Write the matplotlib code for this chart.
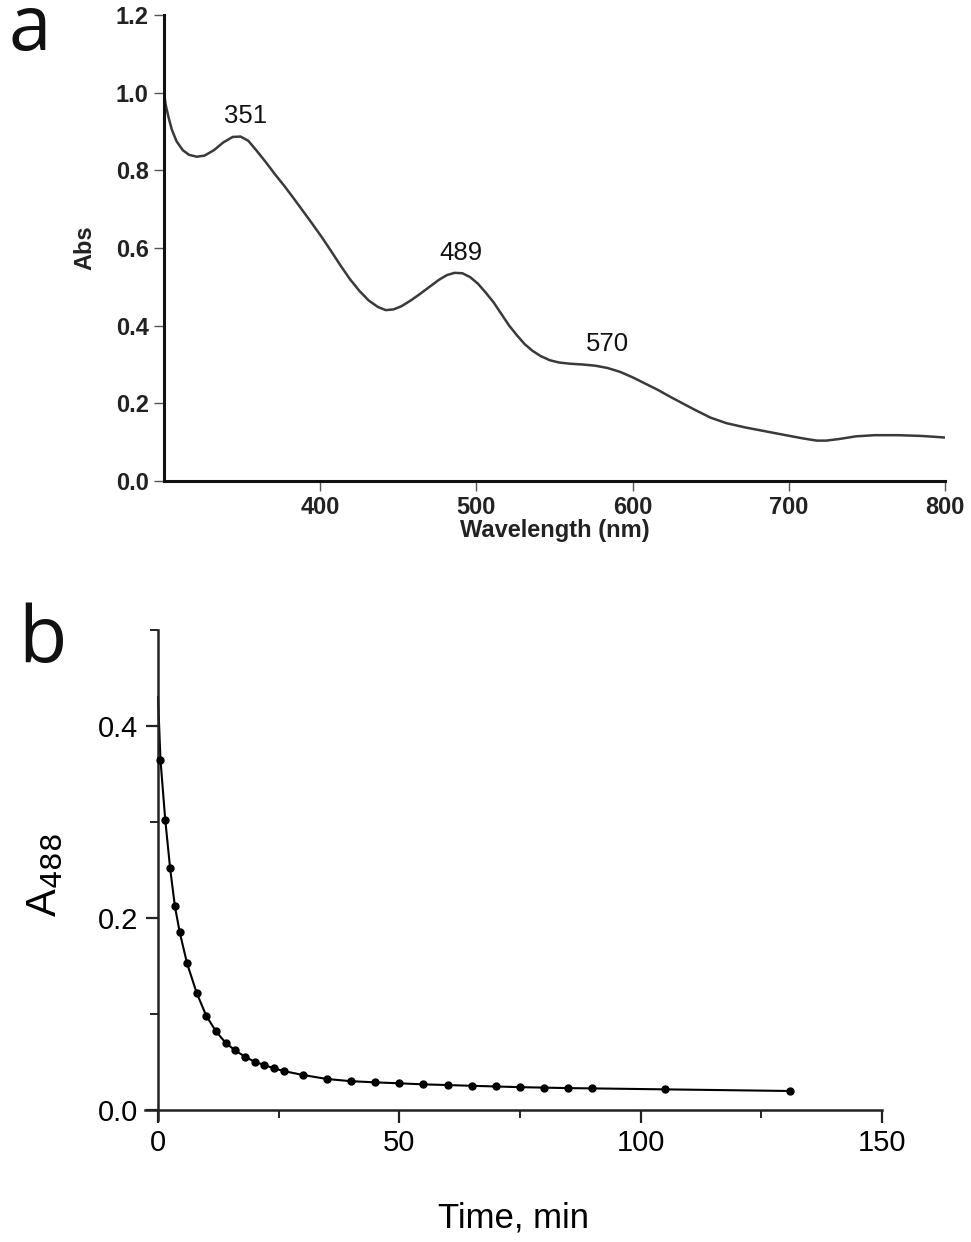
import matplotlib
matplotlib.use("Agg")
import matplotlib.pyplot as plt
from matplotlib.ticker import MultipleLocator, FixedLocator

plt.rcParams['font.family'] = ['Liberation Sans', 'DejaVu Sans']

# Panel a: absorption spectrum
wavelength = [300, 301, 303, 305, 308, 312, 316, 321, 326, 332, 338, 344, 349, 354,
              359, 365, 371, 377, 383, 389, 395, 401, 407, 413, 419, 425, 431, 437,
              442, 447, 452, 458, 464, 470, 476, 481, 486, 491, 496, 501, 506, 511,
              516, 521, 526, 531, 536, 541, 547, 553, 560, 568, 576, 584, 592, 600,
              608, 616, 624, 632, 640, 650, 660, 672, 685, 698, 710, 718, 724, 732,
              743, 755, 770, 785, 800]
absorb = [1.00, 0.97, 0.935, 0.905, 0.875, 0.852, 0.84, 0.835, 0.838, 0.852, 0.872,
          0.886, 0.887, 0.876, 0.852, 0.822, 0.79, 0.76, 0.728, 0.695, 0.662, 0.628,
          0.592, 0.555, 0.52, 0.49, 0.465, 0.448, 0.44, 0.442, 0.45, 0.465, 0.482, 0.5,
          0.518, 0.53, 0.536, 0.535, 0.525, 0.508, 0.485, 0.46, 0.43, 0.4, 0.375, 0.352,
          0.335, 0.322, 0.311, 0.305, 0.302, 0.3, 0.297, 0.291, 0.281, 0.267, 0.251,
          0.235, 0.217, 0.2, 0.183, 0.163, 0.149, 0.138, 0.128, 0.118, 0.109, 0.104,
          0.104, 0.108, 0.115, 0.118, 0.118, 0.116, 0.112]
peak_labels = ["351", "489", "570"]
peak_pos = [(352, 0.94), (490, 0.588), (584, 0.352)]
a_xticks = [400, 500, 600, 700, 800]
a_yticks = [0.0, 0.2, 0.4, 0.6, 0.8, 1.0, 1.2]

# Panel b: decay of A488
time_min = [0.5, 1.5, 2.5, 3.5, 4.5, 6, 8, 10, 12, 14, 16, 18, 20, 22, 24, 26, 30, 35,
            40, 45, 50, 55, 60, 65, 70, 75, 80, 85, 90, 105, 131]
a488 = [0.365, 0.302, 0.252, 0.212, 0.185, 0.153, 0.122, 0.098, 0.082, 0.070, 0.062,
        0.0556, 0.0503, 0.0469, 0.0434, 0.0406, 0.0365, 0.0323, 0.030, 0.0288, 0.0278,
        0.0267, 0.026, 0.0252, 0.0245, 0.0238, 0.0233, 0.0228, 0.0225, 0.0215, 0.0198]
fit_t = [0.0] + time_min
fit_y = [0.43] + a488
b_xticks = [0, 50, 100, 150]
b_yticks = [0.0, 0.2, 0.4]

W, H = 971, 1242
fig = plt.figure(figsize=(W / 100, H / 100), dpi=100)

# ---------- panel a ----------
axa = fig.add_axes([164 / W, 1 - 481 / H, (945 - 164) / W, (481 - 15) / H])
axa.plot(wavelength, absorb, color='#3a3a3a', lw=1.8)
axa.set_xlim(300, 800)
axa.set_ylim(0, 1.2)
axa.xaxis.set_major_locator(FixedLocator(a_xticks))
axa.yaxis.set_major_locator(FixedLocator(a_yticks))
axa.set_xticklabels([str(v) for v in a_xticks])
axa.set_yticklabels([f"{v:.1f}" for v in a_yticks])
for s in ['top', 'right']:
    axa.spines[s].set_visible(False)
for s in ['left', 'bottom']:
    axa.spines[s].set_linewidth(2.2)
    axa.spines[s].set_color('#111111')
axa.tick_params(axis='both', direction='out', length=7, width=1.0, color='#555555',
                labelsize=17, pad=4)
for lab in axa.get_xticklabels() + axa.get_yticklabels():
    lab.set_fontweight('bold')
    lab.set_color('#222222')
axa.set_xlabel("Wavelength (nm)", fontsize=17, fontweight='bold', color='#222222', labelpad=0)
axa.set_ylabel("Abs", fontsize=17, fontweight='bold', color='#222222', labelpad=14)
for lab, (px, py) in zip(peak_labels, peak_pos):
    axa.text(px, py, lab, fontsize=18.5, ha='center', va='center', color='#111111')
fig.text(8 / W, 1 - 50 / H, "a", fontsize=55, family=['Open Sans', 'DejaVu Sans'],
         ha='left', va='baseline', color='#111111')

# ---------- panel b ----------
bx0, bx1 = 145, 882
by_top, by_bot = 630, 1119.6
axb = fig.add_axes([bx0 / W, 1 - by_bot / H, (bx1 - bx0) / W, (by_bot - by_top) / H])
axb.plot(fit_t, fit_y, color='black', lw=1.5, zorder=2)
axb.plot(time_min, a488, 'o', color='black', ms=5, zorder=3)
axb.set_xlim(-2.7, 150)
axb.set_ylim(-0.01, 0.5)
axb.spines['left'].set_position(('data', 0))
axb.spines['bottom'].set_position(('data', 0))
for s in ['top', 'right']:
    axb.spines[s].set_visible(False)
for s in ['left', 'bottom']:
    axb.spines[s].set_linewidth(1.8)
    axb.spines[s].set_color('#222222')
axb.xaxis.set_major_locator(FixedLocator(b_xticks))
axb.xaxis.set_minor_locator(MultipleLocator(25))
axb.yaxis.set_major_locator(FixedLocator(b_yticks))
axb.yaxis.set_minor_locator(FixedLocator([0.1, 0.3, 0.5]))
axb.set_xticklabels([str(v) for v in b_xticks])
axb.set_yticklabels([f"{v:.1f}" for v in b_yticks])
axb.tick_params(axis='both', which='major', direction='out', length=9, width=1.6,
                labelsize=21, pad=5, color='#222222')
axb.tick_params(axis='both', which='minor', direction='out', length=6, width=1.4,
                color='#222222')
axb.set_xlabel("Time, min", fontsize=25, labelpad=32)
axb.set_ylabel(r"A$_{488}$", fontsize=30, labelpad=24)
fig.text(18 / W, 1 - 662 / H, "b", fontsize=57, family=['Open Sans', 'DejaVu Sans'],
         ha='left', va='baseline', color='#111111')

fig.savefig("out.png", dpi=100)
